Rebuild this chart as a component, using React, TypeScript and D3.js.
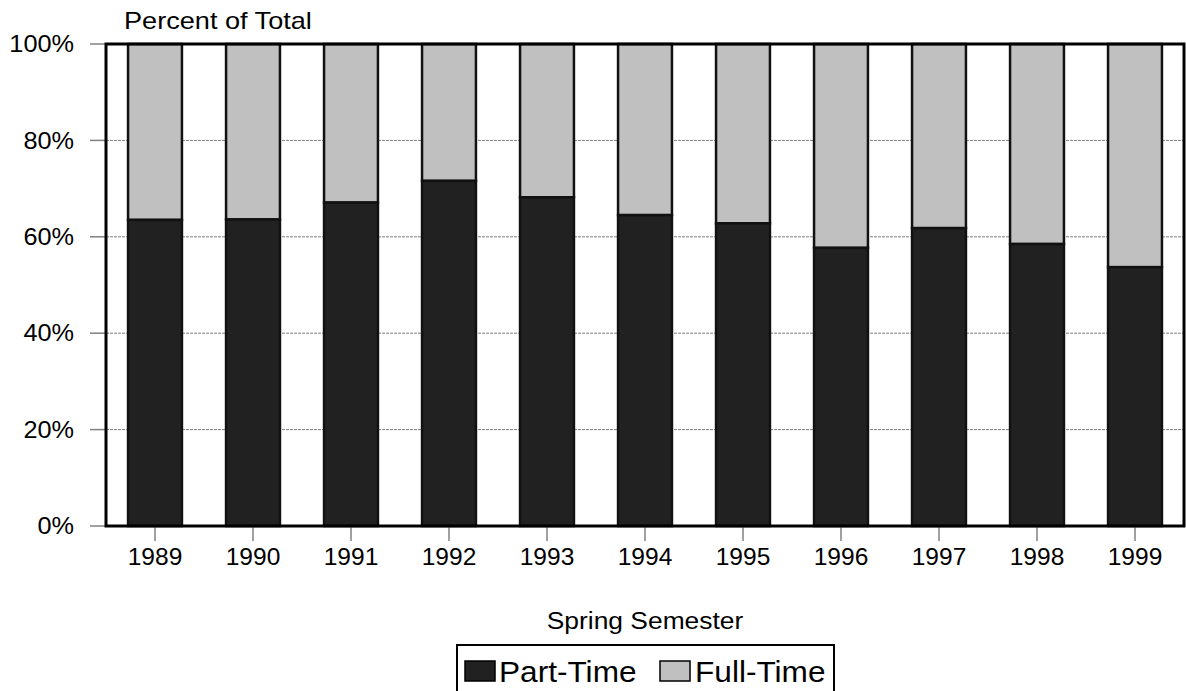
import { useEffect, useRef } from 'react';
import * as d3 from 'd3';

const years = ['1989', '1990', '1991', '1992', '1993', '1994', '1995', '1996', '1997', '1998', '1999'];
// share of students that are part-time (percent)
const partTime = [63.5, 63.6, 67.1, 71.6, 68.2, 64.5, 62.8, 57.7, 61.8, 58.5, 53.7];
const yTicks = [0, 20, 40, 60, 80, 100];

const FONT = 'Arial, "Liberation Sans", sans-serif';
const DARK = '#212121';
const LIGHT = '#c0c0c0';
// the original's lettering is a little wider than Liberation Sans
const STRETCH = 1.1;

export default function App() {
  const svgRef = useRef<SVGSVGElement>(null);
  const width = 1186;
  const height = 691;

  useEffect(() => {
    if (!svgRef.current) return;
    const svg = d3.select(svgRef.current);
    svg.selectAll('*').remove();

    const left = 106, right = 1184, top = 44, bottom = 526;

    const x = d3.scaleBand<string>()
      .domain(years)
      .range([left, right])
      .paddingInner(0.45)
      .paddingOuter(0.225);

    const y = d3.scaleLinear().domain([0, 100]).range([bottom, top]);

    // gridlines (dashed, behind bars)
    svg.append('g')
      .selectAll('line')
      .data(yTicks.filter(t => t > 0 && t < 100))
      .join('line')
      .attr('x1', left)
      .attr('x2', right)
      .attr('y1', d => y(d))
      .attr('y2', d => y(d))
      .attr('stroke', '#808080')
      .attr('stroke-width', 1)
      .attr('stroke-dasharray', '3,1');

    // y ticks + labels
    const yAxis = svg.append('g');
    yAxis.selectAll('line')
      .data(yTicks)
      .join('line')
      .attr('x1', 90)
      .attr('x2', left)
      .attr('y1', d => y(d))
      .attr('y2', d => y(d))
      .attr('stroke', '#808080')
      .attr('stroke-width', 1.5);
    yAxis.selectAll('text')
      .data(yTicks)
      .join('text')
      .attr('transform', d => `translate(74,${y(d)}) scale(${STRETCH},1)`)
      .attr('dy', '0.36em')
      .attr('text-anchor', 'end')
      .style('font-family', FONT)
      .style('font-size', '23px')
      .style('fill', '#000')
      .text(d => `${d}%`);

    // stacked bars
    const bars = svg.append('g')
      .selectAll('g')
      .data(years.map((yr, i) => ({ yr, pt: partTime[i] })))
      .join('g');

    bars.append('rect')
      .attr('x', d => x(d.yr)!)
      .attr('width', x.bandwidth())
      .attr('y', y(100))
      .attr('height', d => y(d.pt) - y(100))
      .attr('fill', LIGHT)
      .attr('stroke', '#111')
      .attr('stroke-width', 2.5);

    bars.append('rect')
      .attr('x', d => x(d.yr)!)
      .attr('width', x.bandwidth())
      .attr('y', d => y(d.pt))
      .attr('height', d => y(0) - y(d.pt))
      .attr('fill', DARK)
      .attr('stroke', '#111')
      .attr('stroke-width', 2.5);

    // x ticks + labels
    const xAxis = svg.append('g');
    xAxis.selectAll('line')
      .data(years)
      .join('line')
      .attr('x1', d => x(d)! + x.bandwidth() / 2)
      .attr('x2', d => x(d)! + x.bandwidth() / 2)
      .attr('y1', bottom)
      .attr('y2', 541)
      .attr('stroke', '#808080')
      .attr('stroke-width', 1.5);
    xAxis.selectAll('text')
      .data(years)
      .join('text')
      .attr('transform', d => `translate(${x(d)! + x.bandwidth() / 2},565) scale(${STRETCH * 0.97},1)`)
      .attr('text-anchor', 'middle')
      .style('font-family', FONT)
      .style('font-size', '23px')
      .style('fill', '#000')
      .text(d => d);

    // plot frame
    svg.append('rect')
      .attr('x', left)
      .attr('y', top)
      .attr('width', right - left)
      .attr('height', bottom - top)
      .attr('fill', 'none')
      .attr('stroke', '#000')
      .attr('stroke-width', 3);

    // titles
    svg.append('text')
      .attr('transform', 'translate(124,29) scale(1.13,1)')
      .style('font-family', FONT)
      .style('font-size', '24px')
      .text('Percent of Total');

    svg.append('text')
      .attr('transform', 'translate(645,629) scale(1.1,1)')
      .attr('text-anchor', 'middle')
      .style('font-family', FONT)
      .style('font-size', '24px')
      .text('Spring Semester');

    // legend
    const legend = svg.append('g');
    legend.append('rect')
      .attr('x', 457)
      .attr('y', 645)
      .attr('width', 377)
      .attr('height', 60)
      .attr('fill', '#fff')
      .attr('stroke', '#000')
      .attr('stroke-width', 2);

    const items = [
      { label: 'Part-Time', color: DARK, sx: 465, tx: 499 },
      { label: 'Full-Time', color: LIGHT, sx: 660, tx: 695 },
    ];
    items.forEach(it => {
      legend.append('rect')
        .attr('x', it.sx)
        .attr('y', 661)
        .attr('width', 30)
        .attr('height', 20)
        .attr('fill', it.color)
        .attr('stroke', '#000')
        .attr('stroke-width', 1.5);
      legend.append('text')
        .attr('transform', `translate(${it.tx},682) scale(1.09,1)`)
        .style('font-family', FONT)
        .style('font-size', '29px')
        .text(it.label);
    });
  }, []);

  return (
    <svg
      ref={svgRef}
      width={width}
      height={height}
      style={{ position: 'absolute', left: 0, top: 0, background: '#fff' }}
    />
  );
}
